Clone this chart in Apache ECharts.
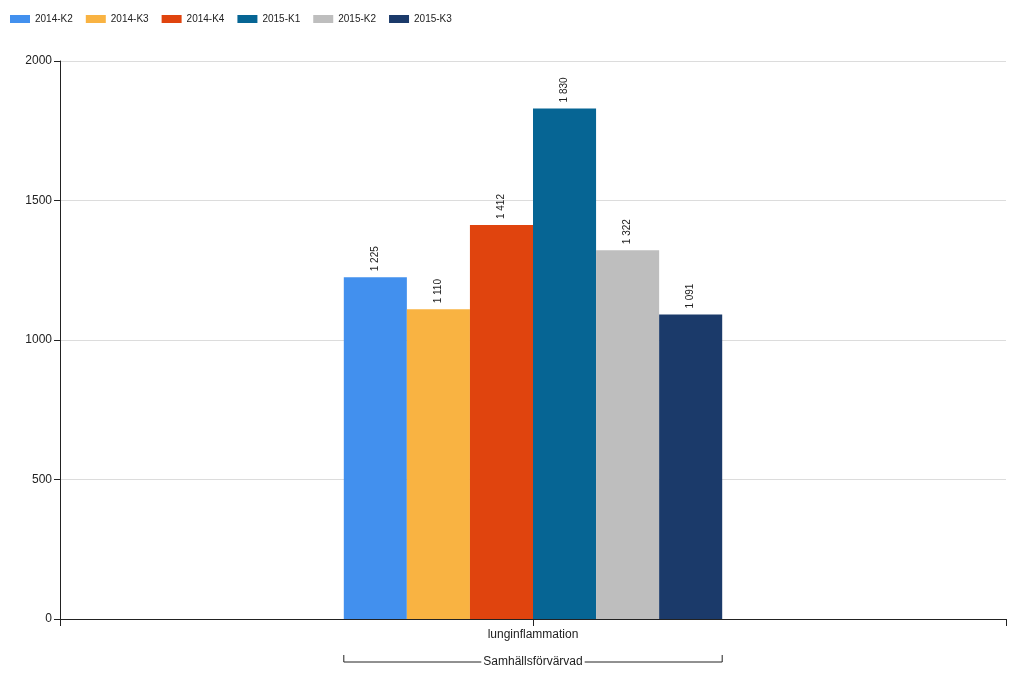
<!DOCTYPE html>
<html><head><meta charset="utf-8">
<script src="https://cdn.jsdelivr.net/npm/echarts@6/dist/echarts.min.js"></script>
<style>html,body{margin:0;padding:0;background:#fff}#c{width:1024px;height:676px}</style>
</head><body><div id="c"></div>
<script>
var categories = ['lunginflammation'];
var groupLabel = 'Samhällsförvärvad';
var seriesNames = ['2014-K2','2014-K3','2014-K4','2015-K1','2015-K2','2015-K3'];
var seriesValues = [[1225],[1110],[1412],[1830],[1322],[1091]];
var colors = ['#4290EE','#F9B342','#E0440E','#066594','#BEBEBE','#1B3A6A'];
var yTicks = [0,500,1000,1500,2000];

function fmt(v){return String(v).replace(/\B(?=(\d{3})+(?!\d))/g,' ');}
var chart = echarts.init(document.getElementById('c'));
var font = 'Arial, "Liberation Sans", sans-serif';
var series = seriesNames.map(function(n,i){
  return {name:n,type:'bar',data:seriesValues[i],barGap:'0%',barCategoryGap:'60%',
    itemStyle:{color:colors[i]},
    label:{show:true,position:'top',rotate:90,align:'left',verticalAlign:'middle',distance:6,
      color:'#222',fontSize:10,fontFamily:font,formatter:function(p){return fmt(p.value);}}};
});
chart.setOption({
  animation:false,
  legend:{left:5,top:9,itemWidth:20,itemHeight:8,itemGap:13,icon:'rect',
    textStyle:{fontSize:10,color:'#222',fontFamily:font},data:seriesNames},
  grid:{left:60,right:18,top:61,bottom:57},
  xAxis:[{type:'category',data:categories,
    axisLine:{lineStyle:{color:'#222'}},axisTick:{show:true,length:7,lineStyle:{color:'#222'}},
    axisLabel:{fontSize:12,color:'#222',margin:10,fontFamily:font}},
   {type:'category',data:categories,position:'bottom',
    axisLine:{show:false},axisTick:{show:true,alignWithLabel:true,length:7,lineStyle:{color:'#222'}},
    axisLabel:{show:false}}],
  yAxis:{type:'value',min:yTicks[0],max:yTicks[yTicks.length-1],interval:500,
    axisLine:{show:true,lineStyle:{color:'#222'}},axisTick:{show:true,length:6,lineStyle:{color:'#222'}},
    axisLabel:{fontSize:12,color:'#222',margin:8,fontFamily:font,formatter:function(v){return String(v);}},
    splitLine:{lineStyle:{color:'#dcdcdc'}}},
  series:series
});
// group bracket computed from the category scale
var cx = chart.convertToPixel({xAxisIndex:0},categories[0]);
var gridW = 1024-60-18;
var bandW = gridW/categories.length;
var half = bandW*(1-0.6)/2;
var by = 662;
chart.setOption({graphic:[
  {type:'polyline',shape:{points:[[cx-half,by-7],[cx-half,by],[cx+half,by],[cx+half,by-7]]},style:{stroke:'#222',lineWidth:1,fill:null}},
  {type:'text',x:cx,y:by,style:{text:groupLabel,align:'center',verticalAlign:'middle',fontSize:12,fill:'#222',fontFamily:font,backgroundColor:'#fff',padding:[0,2]}}
]});
</script></body></html>
